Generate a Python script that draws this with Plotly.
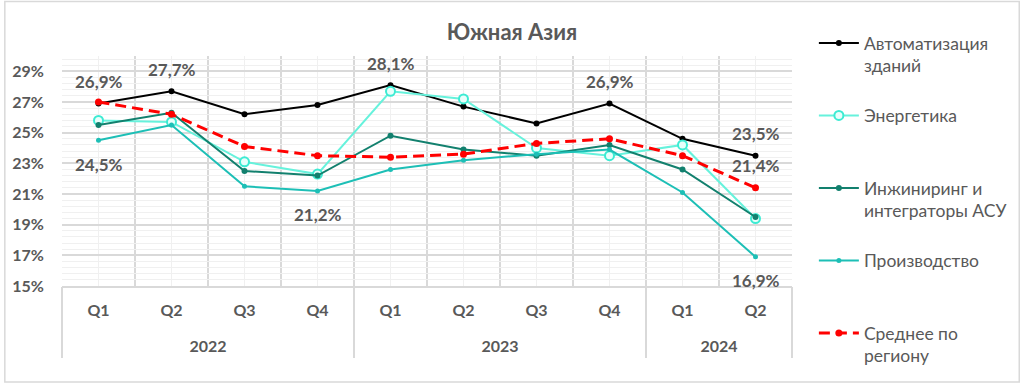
import plotly.graph_objects as go

# ---------------- data ----------------
quarters = ["Q1", "Q2", "Q3", "Q4", "Q1", "Q2", "Q3", "Q4", "Q1", "Q2"]
years = ["2022", "2022", "2022", "2022", "2023", "2023", "2023", "2023", "2024", "2024"]

series_names = [
    "Автоматизация<br>зданий",
    "Энергетика",
    "Инжиниринг и<br>интеграторы АСУ",
    "Производство",
    "Среднее по<br>региону",
]
automation = [26.9, 27.7, 26.2, 26.8, 28.1, 26.7, 25.6, 26.9, 24.6, 23.5]
energy = [25.8, 25.7, 23.1, 22.3, 27.7, 27.2, 24.0, 23.5, 24.2, 19.4]
engineering = [25.5, 26.3, 22.5, 22.2, 24.8, 23.9, 23.5, 24.2, 22.6, 19.5]
production = [24.5, 25.5, 21.5, 21.2, 22.6, 23.2, 23.6, 23.9, 21.1, 16.9]
average = [27.0, 26.2, 24.1, 23.5, 23.4, 23.6, 24.3, 24.6, 23.5, 21.4]

y_ticks = [15, 17, 19, 21, 23, 25, 27, 29]

# labelled points: (series index, point index, above?)
labelled = [
    (0, 0, True), (0, 1, True), (0, 4, True), (0, 7, True), (0, 9, True),
    (3, 0, False), (3, 3, False), (3, 9, False),
    (4, 9, True),
]

# ---------------- styling ----------------
W, H = 1024, 384
ML, MR, MT, MB = 59, 231, 56, 98
PW, PH = W - ML - MR, H - MT - MB
FONT = "Lato, 'Noto Sans', 'DejaVu Sans', sans-serif"
GRAY = "#595959"

colors = ["#000000", "#66F2DC", "#12806E", "#1DBFB6", "#FF0000"]
all_values = [automation, energy, engineering, production, average]

x_idx = list(range(len(quarters)))

fig = go.Figure()

styles = [
    dict(line=dict(color=colors[0], width=2), marker=dict(size=6, color=colors[0])),
    dict(line=dict(color=colors[1], width=2),
         marker=dict(size=9, color="#E8FFFB", line=dict(color="#3DEBD3", width=2))),
    dict(line=dict(color=colors[2], width=2), marker=dict(size=6, color=colors[2])),
    dict(line=dict(color=colors[3], width=2), marker=dict(size=5, color=colors[3])),
    dict(line=dict(color=colors[4], width=3, dash="11px,6px"), marker=dict(size=7, color=colors[4])),
]

for i, (name, vals) in enumerate(zip(series_names, all_values)):
    legend_name = name if "<br>" in name else name + "<br>&nbsp;"
    fig.add_trace(go.Scatter(
        x=x_idx, y=vals, name=legend_name, mode="lines+markers",
        legendgroup=f"g{i}", hoverinfo="skip", **styles[i]
    ))

# empty helper traces so that the overlaid label axes get drawn
for ax in ("x2", "x3"):
    fig.add_trace(go.Scatter(x=[], y=[], xaxis=ax, yaxis="y", showlegend=False,
                             hoverinfo="skip", mode="lines"))

annotations = []
for s, p, above in labelled:
    v = all_values[s][p]
    annotations.append(dict(
        x=x_idx[p], y=v, xref="x", yref="y",
        text=f"{v:.1f}".replace(".", ",") + "%",
        showarrow=False, yshift=22 if above else -24,
        font=dict(family=FONT, size=17, color=GRAY, weight="bold"),
    ))

# year groups
year_list = []
for y in years:
    if y not in year_list:
        year_list.append(y)
year_centers = []
boundaries = [-0.5]
for y in year_list:
    idx = [i for i, yy in enumerate(years) if yy == y]
    year_centers.append(sum(idx) / len(idx))
    boundaries.append(max(idx) + 0.5)


def px2paper_x(px):
    return (px - ML) / PW


def px2paper_y(py):
    return (H - MB - py) / PH


shapes = [dict(
    type="rect", xref="paper", yref="paper",
    x0=px2paper_x(1.5), x1=px2paper_x(1021.5), y0=px2paper_y(382), y1=px2paper_y(1.5),
    line=dict(color="#D9D9D9", width=1.5), layer="below",
)]

fig.update_layout(
    width=W, height=H,
    margin=dict(l=ML, r=MR, t=MT, b=MB, pad=0),
    paper_bgcolor="white", plot_bgcolor="white",
    font=dict(family=FONT, color=GRAY),
    title=dict(text="<b>Южная Азия</b>", x=0.5, xref="container", xanchor="center",
               y=1 - 32 / H, yanchor="middle", yref="container",
               font=dict(family=FONT, size=22, color=GRAY)),
    showlegend=True,
    legend=dict(
        x=px2paper_x(815), xanchor="left", y=px2paper_y(25), yanchor="top",
        font=dict(family=FONT, size=17.5, color=GRAY),
        valign="top", tracegroupgap=24, maxheight=1,
        bgcolor="rgba(0,0,0,0)", itemwidth=40,
    ),
    xaxis=dict(
        range=[-0.5, len(quarters) - 0.5],
        tickmode="array", tickvals=x_idx, ticktext=quarters,
        ticks="outside", ticklen=9, tickcolor="rgba(0,0,0,0)",
        tickfont=dict(family=FONT, size=16, color=GRAY, weight="bold"),
        showgrid=True, gridcolor="#F0F0F0", gridwidth=1,
        minor=dict(tickmode="linear", tick0=-0.5, dtick=1, showgrid=True,
                   gridcolor="#D9D9D9", gridwidth=1.5, ticks=""),
        showline=True, linecolor="#D9D9D9", linewidth=1.5,
        zeroline=False, fixedrange=True,
    ),
    xaxis2=dict(
        overlaying="x", anchor="y", side="bottom",
        range=[-0.5, len(quarters) - 0.5],
        tickmode="array", tickvals=year_centers, ticktext=year_list,
        ticks="outside", ticklen=46, tickcolor="rgba(0,0,0,0)",
        tickfont=dict(family=FONT, size=16, color=GRAY, weight="bold"),
        showgrid=False, showline=False, zeroline=False, fixedrange=True,
    ),
    xaxis3=dict(
        overlaying="x", anchor="y", side="bottom",
        range=[-0.5, len(quarters) - 0.5],
        tickmode="array", tickvals=boundaries,
        ticks="outside", ticklen=71, tickcolor="#D9D9D9", tickwidth=1.5,
        showticklabels=False, showgrid=False, showline=False, zeroline=False,
        fixedrange=True,
    ),
    yaxis=dict(
        range=[15, 30], tickmode="array", tickvals=y_ticks,
        ticktext=[f"{v}%" for v in y_ticks],
        ticks="outside", ticklen=14, tickcolor="rgba(0,0,0,0)",
        tickfont=dict(family=FONT, size=16, color=GRAY, weight="bold"),
        showgrid=True, gridcolor="#D9D9D9", gridwidth=1.5,
        minor=dict(tickmode="linear", tick0=15, dtick=0.4, showgrid=True,
                   gridcolor="#F0F0F0", gridwidth=1, ticks=""),
        zeroline=False, showline=False, fixedrange=True,
    ),
    annotations=annotations,
    shapes=shapes,
)

fig.write_html(
    "out.html",
    config={"displayModeBar": False},
    post_script="document.body.style.margin='0';document.body.style.overflow='hidden';",
)
